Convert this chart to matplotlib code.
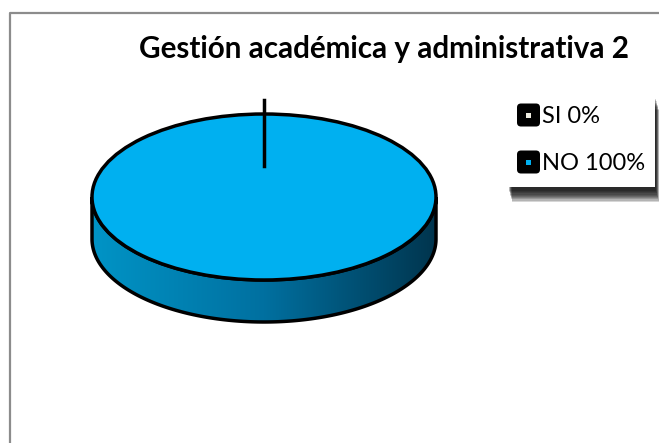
import numpy as np
import matplotlib.pyplot as plt
from matplotlib.patches import Polygon, Ellipse, Rectangle, FancyBboxPatch
from matplotlib.colors import LinearSegmentedColormap

# datos del gráfico
categorias = ['SI', 'NO']
valores = [0, 100]
colores = ['#EEECE1', '#00B0F0']
etiquetas = [f'{c} {v}%' for c, v in zip(categorias, valores)]
titulo = 'Gestión académica y administrativa 2'

plt.rcParams['font.family'] = ['Lato', 'DejaVu Sans']

fig = plt.figure(figsize=(6.59, 4.43), dpi=100)
ax = fig.add_axes([0, 0, 1, 1])
ax.set_xlim(0, 659)
ax.set_ylim(443, 0)
ax.axis('off')

# marco del gráfico
ax.plot([10, 10, 659], [443, 13, 13], color='#8c8c8c', lw=1.6, solid_capstyle='butt')

# pastel 3D (coordenadas en píxeles)
cx, cy = 264, 197
rx, ry = 172, 83
prof = 42
borde = 2.5

# lado del cilindro con degradado
t = np.linspace(0, np.pi, 200)
xs = cx + rx * np.cos(t)
ys = cy + ry * np.sin(t)
lado = np.concatenate([np.column_stack([xs, ys]),
                       np.column_stack([xs[::-1], ys[::-1] + prof])])
poly_lado = Polygon(lado, closed=True, facecolor='none', edgecolor='black', lw=borde, zorder=3)
ax.add_patch(poly_lado)
cmap = LinearSegmentedColormap.from_list('lado', ['#0094C6', '#0070A0', '#00354E'])
grad = np.linspace(0, 1, 256).reshape(1, -1)
im = ax.imshow(grad, extent=[cx - rx, cx + rx, cy + ry + prof, cy], cmap=cmap,
               aspect='auto', zorder=2)
im.set_clip_path(poly_lado)
ax.set_xlim(0, 659)
ax.set_ylim(443, 0)

# cara superior: cuñas según los valores
total = sum(valores)
ang = 90.0
for v, col in zip(valores, colores):
    ancho = 360.0 * v / total
    if ancho >= 359.999:
        ax.add_patch(Ellipse((cx, cy), 2 * rx, 2 * ry, facecolor=col,
                             edgecolor='black', lw=borde, zorder=4))
    elif ancho > 0:
        th = np.radians(np.linspace(ang, ang - ancho, 100))
        pts = [(cx, cy)] + list(zip(cx + rx * np.cos(th), cy - ry * np.sin(th)))
        ax.add_patch(Polygon(pts, closed=True, facecolor=col, edgecolor='black',
                             lw=borde, zorder=4))
    else:
        # cuña de 0 %: solo se ve su borde, desplazado hacia afuera
        th = np.radians(ang)
        r0, r1 = 0.37, 0.37 + 0.8
        ax.plot([cx + rx * r0 * np.cos(th), cx + rx * r1 * np.cos(th)],
                [cy - ry * r0 * np.sin(th), cy - ry * r1 * np.sin(th)],
                color='black', lw=borde, zorder=5)
    ang -= ancho

# título
ax.text(384, 58, titulo, ha='center', va='baseline', fontsize=21.3,
        fontweight='bold', color='black')

# leyenda con sombra
lx, ly, lw_, lh = 508, 95, 147, 92
for i in range(10):
    ax.add_patch(Rectangle((lx + 1 + i * 0.35, ly + 4 + i * 1.2), lw_, lh,
                           facecolor='black', edgecolor='none', alpha=0.16, zorder=6))
ax.add_patch(Rectangle((lx, ly), lw_, lh, facecolor='white', edgecolor='none', zorder=7))
for i, (lab, col) in enumerate(zip(etiquetas, colores)):
    yy = 115 + i * 47
    ax.add_patch(FancyBboxPatch((517, yy - 11.5), 23, 23,
                                boxstyle='round,pad=0,rounding_size=4',
                                facecolor='black', edgecolor='none', zorder=8))
    ax.add_patch(Rectangle((526, yy - 2.5), 5, 5, facecolor=col,
                           edgecolor='none', zorder=9))
    ax.text(542, yy + 8, lab, ha='left', va='baseline', fontsize=17, color='black', zorder=9)

fig.savefig('out.png', dpi=100)
